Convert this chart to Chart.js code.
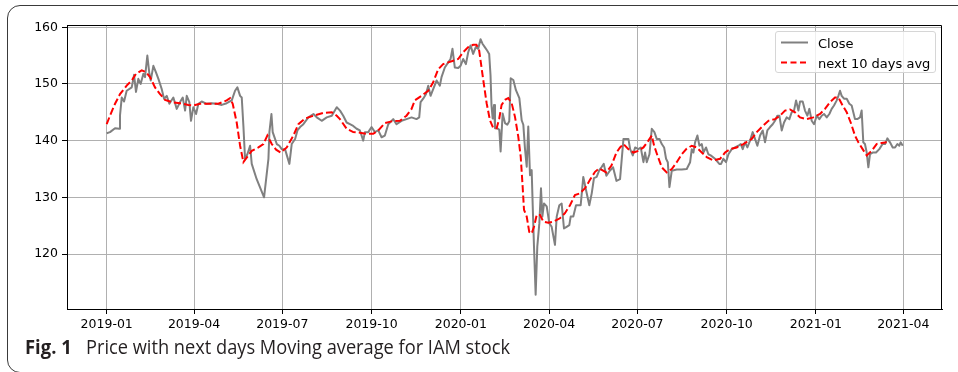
<!DOCTYPE html>
<html>
<head>
<meta charset="utf-8">
<script src="https://cdn.jsdelivr.net/npm/chart.js"></script>
<style>
  html, body { margin: 0; padding: 0; background: #fff; }
  body { width: 958px; height: 372px; position: relative; overflow: hidden; }
  #frame {
    position: absolute; left: 7px; top: 5px; width: 1000px; height: 368px;
    border: 1px solid #3a3a3a; border-radius: 13px; box-sizing: border-box;
  }
  #chart { position: absolute; left: 0; top: 0; }
  #legend {
    position: absolute; left: 775px; top: 31px; width: 161px; height: 42px;
    border: 1px solid #d6d6d6; border-radius: 3px; box-sizing: border-box;
    background: rgba(255, 255, 255, 0.8);
  }
  #legend svg { position: absolute; left: 0; top: 0; }
  .leg-label {
    position: absolute; left: 42px; font-family: "DejaVu Sans"; font-size: 13px;
    line-height: 13px; color: #000; white-space: nowrap;
  }
  .cap {
    position: absolute; font-family: "Open Sans"; font-size: 19.5px; line-height: 20px;
    color: #231f20; white-space: nowrap; transform-origin: 0 0;
  }
  #capFig { left: 25px; top: 337px; font-weight: 700; }
  #capText { left: 86px; top: 337px; }
</style>
</head>
<body>
<div id="frame"></div>
<canvas id="chart" width="958" height="372"></canvas>
<div id="legend">
  <svg width="161" height="42">
    <line x1="5" y1="10.5" x2="32" y2="10.5" stroke="#808080" stroke-width="2"/>
    <line x1="5" y1="30.5" x2="32" y2="30.5" stroke="#ff0000" stroke-width="2" stroke-dasharray="6 3.5"/>
  </svg>
  <div class="leg-label" style="top:4.5px">Close</div>
  <div class="leg-label" style="top:24.5px">next 10 days avg</div>
</div>
<div class="cap" id="capFig">Fig. 1</div>
<div class="cap" id="capText">Price with next days Moving average for IAM stock</div>

<script>
// x values are days since 2019-01-01
const xTickDays = [0, 90, 181, 273, 365, 456, 547, 639, 731, 821];
const xTickLabels = ["2019-01", "2019-04", "2019-07", "2019-10", "2020-01",
  "2020-04", "2020-07", "2020-10", "2021-01", "2021-04"];
const yTicks = [120, 130, 140, 150, 160];

const closeDays = [0, 3.4, 8.6, 13, 13.7, 15.5, 17.9, 20.6, 25.8, 28.2, 30.2, 32.6, 35, 37.8, 39.5, 41.9, 44, 45.4, 48.1, 50.9,
  53.3, 56.7, 59.1, 61.9, 64.6, 68.7, 72.2, 75.6, 78.4, 80.8, 82.5, 85.2, 86.9, 89.3, 92.1, 94.5, 97.9, 103.1, 108.2, 113.4,
  118.6, 123.7, 128.9, 132.3, 134.7, 137.5, 139.2, 140.9, 142.6, 145, 147.8, 149.5, 154.6, 162.2, 166.7, 167.7, 169.8, 171.1, 173.5, 175.3,
  178, 180.4, 183.8, 188.3, 190.7, 194.2, 196.6, 199.3, 202.7, 207.9, 213.1, 216.5, 221.6, 226.8, 232, 237.1, 240.5,
  243.8, 247.3, 250.7, 254.1, 257.6, 261, 264.4, 266.1, 269.6, 273, 276.4, 279.9, 283.3, 286.7, 290.2, 295.3, 298.7, 303.9, 309, 314.2,
  319.3, 322.1, 323.5, 326.2, 329, 331.4, 333.8, 336.5, 340, 343.4, 345.1, 348.5, 352, 354.4, 356.4, 358.8, 362.3, 364.7, 367.4, 370.2,
  372.6, 375, 377.7, 380.4, 382.9, 385.3, 387.3, 389.7, 392.1, 394.2, 395.6, 396.6,
  397.8, 399.2, 400.2, 402.6, 404.7, 406, 408.1, 410.5, 412.9, 414.9, 416.4, 419.1, 421.8, 425.3, 427.7, 429.4, 431.1, 432.9, 434.5, 436.3,
  438, 439.1, 440.4, 442.1, 443.8, 445.9, 447.6, 449, 450.7, 453.5, 456.2, 458.6, 462, 463.8, 466.5, 468.9, 471.3, 474, 476.8, 478.2,
  480.9, 483.7, 486.1, 488.5, 491.2, 494, 497.4, 499.9, 502.2, 505, 507.7,
  509.9, 512.3, 515, 518.5, 521.9, 525.4,
  529.1, 532.6, 537.7, 539.5, 542.2, 544.6, 548, 550.4, 553.2, 554.9, 556.6, 559.4, 561.8, 564.5, 566.9, 569.7, 572.1, 574.5, 576.5, 578.3,
  580, 582.4, 587.5, 592.7, 597.8, 601.3, 603, 604.7, 606.4, 608.8, 610.9, 613.3, 615, 617.7, 620.1, 622.5, 627, 631.4, 633.2, 635.6,
  638.3, 640.8, 644.2, 647.6, 651.1, 653.5, 655.5, 657.9, 660.3, 663.1, 665.8, 668.2, 670.6, 673.4, 676.1, 678.5, 680.9, 683.7, 686.4, 688.8,
  691.2, 693.3, 695.7, 698.1, 700.8, 703.6, 706, 708.4, 710.5, 712.9, 714.6, 717.3, 719.7, 722.1, 724.2, 726.6, 729, 731.8, 734.5, 736.9,
  739.3, 742.1, 744.8, 747.2, 749.6, 752.4, 754.1, 755.8, 757.5, 759.9, 762.7, 765.4, 767.8, 769.5, 771.2, 773.6, 776.4, 778.1, 779.8, 781.5,
  783.3, 785, 786.7, 789.4, 792.9, 796.3, 799.7, 802.2, 804.6, 807.3, 810.1, 812.5, 814.9, 816.9, 818.3, 820.4];
const closeVals = [141.3, 141.5, 142.2, 142.1, 144.4, 147.6, 146.9, 148.8, 149.4, 151.6, 148.6, 150.9, 150, 151.8, 151.2, 155, 151.8, 150.6, 153.2, 152,
  150.9, 149.1, 147.4, 147.9, 146.5, 147.6, 145.6, 146.8, 147.6, 145.3, 147.9, 146.8, 143.5, 145.9, 144.7, 146.5, 146.9, 146.5, 146.6, 146.5,
  146.3, 146.6, 147.1, 148.8, 149.4, 147.9, 147.6, 142.6, 136.8, 137.6, 139.1, 135.9, 133.2, 130.0, 136.8, 141.5, 144.7, 141.5, 140.3, 139.4,
  139.1, 138.5, 138.5, 135.9, 139.4, 140.3, 141.8, 142.4, 142.9, 144.1, 144.7, 144.1, 143.5, 144.1, 144.4, 145.9, 145.3,
  144.4, 143.2, 142.9, 142.6, 142.1, 141.8, 140, 141.5, 141.5, 142.4, 141.5, 141.8, 140.6, 140.9, 142.9, 143.8, 142.9, 143.5, 143.8, 144.1,
  143.8, 144.1, 146.8, 147.4, 148.2, 149.7, 147.9, 149.1, 150.6, 149.7, 151.2, 152.9, 153.8, 154.4, 156.2, 152.9, 152.8, 153.2, 154.4, 153.5,
  155.6, 156.8, 155.3, 156.5, 156.2, 157.9, 157.1, 156.5, 155.9, 155.3, 151.5, 146.2,
  143.9, 146.3, 142.2, 142.2, 141.9, 138.1, 144.8, 143.1, 142.8, 143.4, 151, 150.7, 148.9, 147.5, 143.6, 142.8, 138.6, 135.4, 142.5, 133.9,
  134.8, 128.4, 121.3, 112.8, 121.3, 125.4, 131.6, 126.6, 128.9, 128.4, 125.4, 124.8, 121.6, 126.6, 128.6, 128.9, 124.5, 124.8, 125.1, 126.6,
  126.6, 128.6, 128.6, 128.6, 133.6, 131.3, 128.6, 130.7, 133.4, 133.6, 134.8,
  135.3, 135.9, 133.8, 134.7, 135.3, 132.9,
  133.2, 140.3, 140.3, 138.5, 137.4, 138.8, 138.5, 138.8, 136.2, 137.9, 136.2, 137.6, 142.1, 141.5, 140.3, 140.3, 139.4, 138.8, 136.8, 136.2,
  131.8, 134.7, 134.9, 134.9, 135, 136.2, 138.5, 137.9, 139.7, 140.9, 139.1, 139.4, 137.9, 138.8, 137.6, 137.4, 136.8, 135.9, 135.9, 136.8,
  136.2, 137.6, 138.5, 138.8, 139.1, 139.4, 138.5, 139.7, 138.8, 140, 141.5, 140.3, 139.1, 140.9, 141.8, 139.7, 141.8, 142.4, 142.9, 143.5,
  144.4, 144.4, 141.8, 143.2, 144.1, 143.8, 145, 145.3, 147.1, 145.3, 146.9, 146.9, 145.3, 144.4, 145.6, 143.5, 142.9, 144.4, 143.8, 144.4,
  144.7, 144.1, 144.7, 145.6, 146.2, 147.1, 147.9, 148.8, 147.9, 147.4, 147.4, 146.5, 146.2, 145, 143.8, 143.8, 144.1, 145.3, 139.7, 139.4,
  137.9, 135.3, 137.6, 137.9, 137.9, 138.5, 139.4, 139.4, 140.4, 139.7, 138.8, 138.8, 139.4, 139.1, 139.7, 139.1];

const avgDays = [0, 3.4, 8.6, 13.7, 20.6, 25.8, 30.2, 36.1, 40.5, 44.7, 49.8, 55, 60.1, 67, 75.6, 84.2, 89.3, 96.2, 106.5, 115.1,
  123.7, 127.1, 129.9, 134, 137.5, 140.9, 144.3, 149.5, 156.4, 161.5, 165.6, 170.1, 174.6, 179.4, 185.6, 192.4, 197.6, 204.5, 213.1, 223.4,
  232, 237.1, 240.4, 247.3, 254.1, 261, 267.9, 274.7, 279.9, 286.7, 293.6, 302.2, 309, 314.2, 317.6, 324.5, 331.4, 336.5, 341.7, 346.8,
  352, 357.1, 362.3, 367.4, 372.6, 377.7, 381.1, 383.9, 388.1, 391.6, 395, 398.4, 401.9, 404.6, 407, 410.5, 413.9, 417.4, 420.8, 424.2,
  426.7, 428.7, 430.1, 432.9, 435.5, 438, 440.4, 443.2, 446.6, 450, 455.1, 460.3, 467.2, 472.3, 477.5, 482.6, 487.8, 493, 498.1, 503.3,
  507.7, 515, 520.2, 525.4, 529.1, 532.6, 537.7, 542.9, 548, 553.2, 558.3, 561.8, 564.2, 567.6, 572.1, 577.2, 582.4, 587.5, 592.7, 597.8,
  603, 608.1, 613.3, 618.4, 625.3, 632.2, 637.3, 642.5, 649.3, 656.2, 664.8, 670, 675.1, 682, 688.8, 694, 699.1, 704.3, 709.4, 714.6,
  721.4, 728.3, 735.2, 740.3, 745.5, 750.6, 754.1, 758.5, 762.7, 766.8, 771.2, 774.7, 779.1, 783.3, 788.4, 793.5, 798.7, 803.9];
const avgVals = [142.9, 144.4, 146.5, 148.2, 149.7, 150.6, 151.8, 152.4, 152.1, 151.2, 149.4, 148.2, 147.2, 146.8, 146.6, 146.3, 146.2, 146.5, 146.5, 146.5,
  147.1, 147.5, 146.5, 143.2, 139.1, 136.2, 137, 138.2, 138.8, 139.4, 140.9, 139.4, 138.4, 137.9, 138.8, 140.9, 142.9, 143.9, 144.4, 144.9,
  145, 144.4, 143.8, 142.1, 141.5, 141.4, 141.2, 141.2, 141.8, 143.1, 143.4, 143.5, 144.4, 145.6, 147.1, 147.9, 148.8, 150.3, 152.6, 153.5,
  153.8, 154.1, 154.4, 155.6, 156.5, 156.9, 156.9, 155.9, 150.7, 146.6, 143.6, 142.2, 142.2, 143.9, 146.3, 147.2, 147.5, 146.6, 144.2, 140.7,
  137.2, 131.9, 127.8, 126.6, 123.9, 123.6, 124.8, 126.9, 126.9, 125.7, 125.5, 125.7, 126.3, 127.2, 128.6, 130.4, 130.7, 131.6, 133.1, 134.5,
  135.1, 134.4, 135.6, 137.9, 138.8, 139.4, 138.5, 137.9, 138.2, 138.8, 140, 140.9, 139.1, 137.4, 135.3, 134.4, 135, 136.2, 137.6, 138.6,
  139.1, 138.8, 137.9, 137.1, 136.5, 136.8, 137.9, 138.5, 138.8, 139.4, 140.3, 141.5, 142.4, 143.5, 143.8, 144.4, 145.3, 145.5, 145, 144.1,
  143.8, 144.1, 144.7, 145.6, 146.8, 147.6, 147.6, 146.2, 145, 143.2, 140.9, 139.7, 138.5, 137.4, 138.2, 139.4, 139.6, 139.7];

const tickFont = { family: "DejaVu Sans", size: 12.5 };

const spines = {
  id: "spines",
  afterDraw(chart) {
    const { ctx, chartArea: a } = chart;
    ctx.save();
    ctx.strokeStyle = "#000";
    ctx.lineWidth = 1;
    ctx.beginPath();
    ctx.moveTo(Math.round(a.left) + 0.5, Math.round(a.top) + 0.5);
    ctx.lineTo(Math.round(a.right) - 0.5, Math.round(a.top) + 0.5);
    ctx.lineTo(Math.round(a.right) - 0.5, Math.round(a.bottom));
    ctx.stroke();
    ctx.restore();
  }
};

new Chart(document.getElementById("chart"), {
  type: "line",
  data: {
    datasets: [
      {
        label: "Close",
        data: closeDays.map((d, i) => ({ x: d, y: closeVals[i] })),
        borderColor: "#808080",
        borderWidth: 2,
        pointRadius: 0,
        tension: 0,
        borderJoinStyle: "round",
        order: 1,
      },
      {
        label: "next 10 days avg",
        data: avgDays.map((d, i) => ({ x: d, y: avgVals[i] })),
        borderColor: "#ff0000",
        borderWidth: 2,
        borderDash: [7.2, 3.1],
        pointRadius: 0,
        tension: 0,
        order: 0,
      },
    ],
  },
  options: {
    responsive: false,
    animation: false,
    devicePixelRatio: 1,
    layout: { padding: { top: 25, right: 16, left: 0, bottom: 0 } },
    plugins: { legend: { display: false }, tooltip: { enabled: false } },
    scales: {
      x: {
        type: "linear",
        min: -40.9,
        max: 860.9,
        afterBuildTicks: (scale) => { scale.ticks = xTickDays.map((v) => ({ value: v })); },
        afterFit: (scale) => { scale.height = 63; },
        ticks: {
          callback: (v, i) => xTickLabels[i],
          autoSkip: false,
          maxRotation: 0,
          padding: 3,
          color: "#000",
          font: tickFont,
        },
        grid: { color: "#b0b0b0", lineWidth: 1, tickColor: "#000", tickLength: 5 },
        border: { color: "#000", width: 1 },
      },
      y: {
        min: 110.3,
        max: 160.4,
        afterBuildTicks: (scale) => { scale.ticks = yTicks.map((v) => ({ value: v })); },
        afterFit: (scale) => { scale.width = 67; },
        ticks: { padding: 4, color: "#000", font: tickFont },
        grid: { color: "#b0b0b0", lineWidth: 1, tickColor: "#000", tickLength: 5 },
        border: { color: "#000", width: 1 },
      },
    },
  },
  plugins: [spines],
});

// squeeze caption to the reference widths (condensed face in the original)
function fitWidth(id, target) {
  const el = document.getElementById(id);
  const w = el.getBoundingClientRect().width;
  el.style.transform = "scaleX(" + (target / w) + ")";
}
fitWidth("capFig", 46.7);
fitWidth("capText", 424);
</script>
</body>
</html>
